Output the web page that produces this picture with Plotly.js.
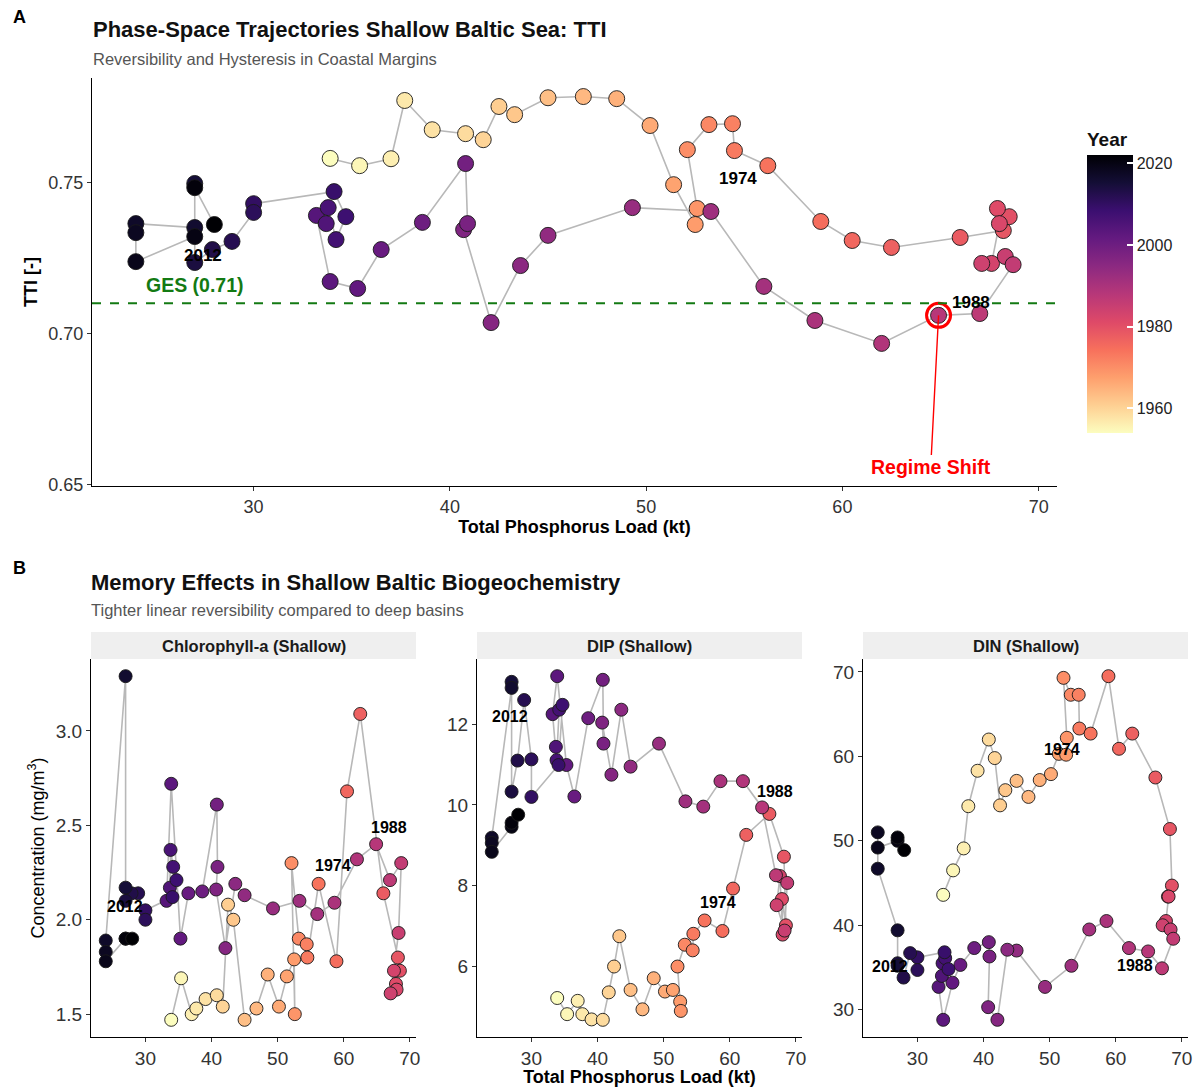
<!DOCTYPE html>
<html><head><meta charset="utf-8">
<script src="https://cdn.plot.ly/plotly-3.0.1.min.js"></script>
<style>html,body{margin:0;padding:0;background:#fff}#chart{width:1194px;height:1087px}</style>
</head><body><div id="chart"></div>
<script>
// ---------------- data ----------------
const years = [1954,1955,1956,1957,1958,1959,1960,1961,1962,1963,
  1964,1965,1966,1967,1968,1969,1970,1971,1972,1973,
  1974,1975,1976,1977,1978,1979,1980,1981,1982,1983,
  1984,1985,1986,1987,1988,1989,1990,1991,1992,1993,
  1994,1995,1996,1997,1998,1999,2000,2001,2002,2003,
  2004,2005,2006,2007,2008,2009,2010,2011,2012,2013,
  2014,2015,2016,2017,2018,2019,2020,2021,2022];
const tpLoad = [33.9,35.4,37.0,37.7,39.1,40.8,41.7,42.5,43.3,45.0,
  46.8,48.5,50.2,51.4,52.5,52.6,52.1,53.2,54.4,54.5,
  56.2,58.9,60.5,62.5,66.0,68.2,68.5,67.9,68.0,67.6,
  67.1,68.3,68.7,67.0,64.9,62.0,58.6,56.0,53.3,49.3,
  45.0,43.6,42.1,40.7,40.9,40.8,38.6,36.5,35.3,33.9,
  33.2,33.7,33.8,34.2,34.7,34.1,30.0,30.0,28.9,27.9,
  27.0,27.0,27.0,24.0,24.0,24.0,27.0,27.0,28.0];
const tti = [0.7580,0.7556,0.7579,0.7772,0.7675,0.7662,0.7642,0.7752,0.7725,0.7781,
  0.7785,0.7778,0.7689,0.7493,0.7361,0.7414,0.7609,0.7692,0.7695,0.7606,
  0.7556,0.7371,0.7308,0.7285,0.7318,0.7341,0.7387,0.7414,0.7364,0.7232,
  0.7232,0.7255,0.7228,0.7066,0.7060,0.6967,0.7043,0.7156,0.7404,0.7417,
  0.7325,0.7225,0.7036,0.7344,0.7364,0.7563,0.7368,0.7278,0.7149,0.7172,
  0.7391,0.7364,0.7417,0.7311,0.7387,0.7470,0.7430,0.7401,0.7305,0.7278,
  0.7235,0.7497,0.7351,0.7364,0.7334,0.7238,0.7321,0.7483,0.7361];
const chlA = [1.47,1.69,1.50,1.53,1.58,1.60,1.54,2.08,2.00,1.47,
  1.53,1.71,1.54,1.70,1.79,1.50,2.30,1.90,1.87,1.80,
  2.19,1.78,2.68,3.09,2.14,1.80,1.73,1.66,1.63,1.73,
  1.61,1.93,2.30,2.21,2.40,2.32,2.09,2.03,2.10,2.06,
  2.13,2.19,1.85,2.16,2.28,2.61,2.15,2.14,1.90,2.72,
  2.10,2.17,2.37,2.28,2.21,2.12,2.05,2.00,2.14,2.14,
  2.10,2.17,3.29,1.89,1.83,1.78,1.90,1.90,1.90];
const dip = [5.22,4.82,5.15,4.82,4.69,4.68,5.36,6.00,6.75,5.42,
  4.94,5.71,5.38,5.42,5.13,4.90,6.00,6.54,6.40,6.81,
  7.14,6.88,7.93,9.26,9.78,8.72,7.02,7.67,6.79,8.24,
  7.52,6.89,8.07,8.26,9.94,10.59,10.59,9.96,10.09,11.52,
  10.95,12.36,10.75,12.04,11.52,13.10,12.15,10.21,10.99,13.19,
  12.25,11.44,11.11,12.36,12.48,10.99,10.20,11.13,12.60,11.10,
  10.33,13.05,12.90,9.19,9.06,8.84,9.46,9.56,9.76];
const din = [43.6,46.5,49.1,54.1,58.3,62.0,59.8,54.2,56.0,57.1,
  55.2,57.2,57.9,60.3,60.2,62.2,69.3,67.3,67.3,63.3,
  62.7,69.5,60.9,62.7,57.5,51.4,44.7,43.4,43.4,40.5,
  40.0,39.5,38.4,34.9,36.9,37.3,40.5,39.5,35.2,32.7,
  37.0,37.1,28.8,30.3,36.3,38.0,37.3,35.3,33.2,28.8,
  32.7,34.0,35.5,36.1,34.8,36.8,36.2,34.7,36.7,33.8,
  35.5,35.2,39.4,46.7,51.0,49.2,50.0,50.4,48.9];
const labelYears = [1974, 1988, 2012];
const regimeYear = 1988;
const regimeLabelX = 64.5;
const regimeLabelY = 0.6556;
const gesValue = 0.71;
const gesLabelX = 27.0;
const gesLabelY = 0.7159;
const xTickVals = [30, 40, 50, 60, 70];
const ttiTicks = [0.65, 0.70, 0.75];
const chlTicks = [1.5, 2.0, 2.5, 3.0];
const dipTicks = [6, 8, 10, 12];
const dinTicks = [30, 40, 50, 60, 70];
const yearTicks = [1960, 1980, 2000, 2020];
const facetTitles = ['Chlorophyll-a (Shallow)', 'DIP (Shallow)', 'DIN (Shallow)'];

// ---------------- helpers ----------------
const W = 1194, H = 1087;
const FONT = 'Liberation Sans, Arial, sans-serif';
const px = v => v / W;
const py = v => 1 - v / H;
function padRange(arr) {
  const lo = Math.min(...arr), hi = Math.max(...arr), d = hi - lo;
  return [lo - 0.05 * d, hi + 0.05 * d];
}
const magmaRev = [[0,'#fcfdbf'],[0.1,'#fecf92'],[0.2,'#fe9f6d'],[0.3,'#f7705c'],
  [0.4,'#de4968'],[0.5,'#b73779'],[0.6,'#8c2981'],[0.7,'#641a80'],
  [0.8,'#3b0f70'],[0.9,'#140e36'],[1,'#000004']];
const yMin = Math.min(...years), yMax = Math.max(...years);

const xRange = padRange(tpLoad);
const ttiRange = padRange(tti.concat([regimeLabelY]));

function axisBase(extra) {
  return Object.assign({
    showline: true, linecolor: '#000', linewidth: 1,
    ticks: 'outside', ticklen: 4, tickwidth: 1, tickcolor: '#333',
    showgrid: false, zeroline: false,
    tickfont: {family: FONT, size: 19, color: '#333'}
  }, extra);
}

const traces = [];
function addPanel(xa, ya, yvals, size, showScale) {
  traces.push({
    x: tpLoad, y: yvals, xaxis: xa, yaxis: ya, mode: 'lines', type: 'scatter',
    line: {color: '#b8b8b8', width: 1.6}, hoverinfo: 'skip', showlegend: false
  });
  const m = {
    x: tpLoad, y: yvals, xaxis: xa, yaxis: ya, mode: 'markers', type: 'scatter',
    showlegend: false, text: years,
    marker: {
      size: size, color: years, cmin: yMin, cmax: yMax, colorscale: magmaRev,
      line: {color: '#1a1a1a', width: 0.9}, showscale: showScale
    }
  };
  if (showScale) {
    m.marker.colorbar = {
      x: px(1087), xanchor: 'left', y: py(433), yanchor: 'bottom', xpad: 0, ypad: 0,
      len: 304, lenmode: 'pixels', thickness: 46, thicknessmode: 'pixels',
      outlinewidth: 0, ticks: 'inside', ticklen: 6, tickwidth: 2, tickcolor: '#fff',
      tickvals: yearTicks, tickfont: {family: FONT, size: 16, color: '#222'},
      title: {text: 'Year', side: 'top', font: {family: FONT, size: 19, weight: 'bold', color: '#111'}}
    };
  }
  traces.push(m);
}
addPanel('x', 'y', tti, 16, true);
addPanel('x2', 'y2', chlA, 13, false);
addPanel('x3', 'y3', dip, 13, false);
addPanel('x4', 'y4', din, 13, false);

// regime shift ring
const ri = years.indexOf(regimeYear);
traces.push({
  x: [tpLoad[ri]], y: [tti[ri]], xaxis: 'x', yaxis: 'y', mode: 'markers', type: 'scatter',
  showlegend: false, hoverinfo: 'skip',
  marker: {symbol: 'circle-open', size: 24, color: '#ff0000', line: {color: '#ff0000', width: 3}}
});

const facetL = [91, 477, 863], facetW = 325;
const layout = {
  width: W, height: H, margin: {l: 0, r: 0, t: 0, b: 0},
  paper_bgcolor: '#fff', plot_bgcolor: '#fff', showlegend: false,
  font: {family: FONT},
  xaxis: axisBase({domain: [px(92), px(1057)], anchor: 'y', range: xRange, tickvals: xTickVals,
    tickfont: {family: FONT, size: 18, color: '#333'},
    title: {text: 'Total Phosphorus Load (kt)', standoff: 1, font: {family: FONT, size: 18, weight: 'bold', color: '#000'}}}),
  yaxis: axisBase({domain: [py(486), py(78)], anchor: 'x', range: ttiRange, tickvals: ttiTicks, tickformat: '.2f',
    tickfont: {family: FONT, size: 18, color: '#333'},
    title: {text: 'TTI [-]', standoff: 6, font: {family: FONT, size: 18, weight: 'bold', color: '#000'}}}),
  shapes: [],
  annotations: []
};
const bottomY = [chlA, dip, din];
const bottomTicks = [chlTicks, dipTicks, dinTicks];
for (let k = 0; k < 3; k++) {
  const n = k + 2;
  const xd = [px(facetL[k]), px(facetL[k] + facetW)];
  const xa = axisBase({domain: xd, anchor: 'y' + n, range: xRange, tickvals: xTickVals});
  const ya = axisBase({domain: [py(1037), py(659)], anchor: 'x' + n, range: padRange(bottomY[k]), tickvals: bottomTicks[k]});
  if (k === 1) xa.title = {text: 'Total Phosphorus Load (kt)', standoff: 1, font: {family: FONT, size: 18, weight: 'bold', color: '#000'}};
  if (k === 0) { ya.title = {text: 'Concentration (mg/m<sup>3</sup>)', standoff: 6, font: {family: FONT, size: 18, color: '#000'}}; ya.tickformat = '.1f'; }
  layout['xaxis' + n] = xa;
  layout['yaxis' + n] = ya;
  layout.shapes.push({type: 'rect', xref: 'paper', yref: 'paper', x0: xd[0], x1: xd[1], y0: py(659), y1: py(632),
    fillcolor: '#efefef', line: {width: 0}, layer: 'below'});
  layout.annotations.push({xref: 'paper', yref: 'paper', x: (xd[0] + xd[1]) / 2, y: py(645.5), xanchor: 'center', yanchor: 'middle',
    text: facetTitles[k], showarrow: false, font: {family: FONT, size: 16.5, weight: 'bold', color: '#1a1a1a'}});
}

// GES line + label
layout.shapes.push({type: 'line', xref: 'x domain', yref: 'y', x0: 0, x1: 1, y0: gesValue, y1: gesValue,
  line: {color: '#137a13', width: 2, dash: 'dash'}});
layout.annotations.push({xref: 'x', yref: 'y', x: gesLabelX, y: gesLabelY, xanchor: 'center', text: '<b>GES (0.71)</b>', showarrow: false,
  font: {family: FONT, size: 19.5, color: '#137a13'}});

// regime shift label
layout.annotations.push({xref: 'x', yref: 'y', x: tpLoad[ri], y: tti[ri], axref: 'x', ayref: 'y',
  ax: regimeLabelX, ay: regimeLabelY, text: '<b>Regime Shift</b>', showarrow: true, arrowhead: 0,
  arrowcolor: '#ff0000', arrowwidth: 1.4, standoff: 0,
  font: {family: FONT, size: 19.5, color: '#ff0000'}});

// year labels
const offsets = [
  {ax: 'x', ay: 'y', vals: tti, size: 17, off: {1974: [-30, -13], 1988: [32, 13], 2012: [-29, -14]}},
  {ax: 'x2', ay: 'y2', vals: chlA, size: 16, off: {1974: [14, 18], 1988: [13, 17], 2012: [-13, -13]}},
  {ax: 'x3', ay: 'y3', vals: dip, size: 16, off: {1974: [13, 18], 1988: [13, 16], 2012: [-14, -16]}},
  {ax: 'x4', ay: 'y4', vals: din, size: 16, off: {1974: [-29, -16], 1988: [-13, -14], 2012: [-20, -13]}}
];
offsets.forEach(p => {
  labelYears.forEach(yr => {
    const i = years.indexOf(yr);
    layout.annotations.push({xref: p.ax, yref: p.ay, x: tpLoad[i], y: p.vals[i], xanchor: 'center', yanchor: 'middle',
      text: '<b>' + yr + '</b>', showarrow: false, xshift: p.off[yr][0], yshift: p.off[yr][1],
      font: {family: FONT, size: p.size, color: '#000'}});
  });
});

// titles
const titleAnn = (t, x, y, size, color, bold) => ({xref: 'paper', yref: 'paper', x: px(x), y: py(y),
  xanchor: 'left', yanchor: 'middle', text: t, showarrow: false,
  font: {family: FONT, size: size, color: color, weight: bold ? 'bold' : 'normal'}});
layout.annotations.push(titleAnn('A', 11, 17, 18, '#000', true));
layout.annotations.push(titleAnn('Phase-Space Trajectories Shallow Baltic Sea: TTI', 91, 30, 22, '#111', true));
layout.annotations.push(titleAnn('Reversibility and Hysteresis in Coastal Margins', 91, 59, 16.5, '#555', false));
layout.annotations.push(titleAnn('B', 11, 568, 18, '#000', true));
layout.annotations.push(titleAnn('Memory Effects in Shallow Baltic Biogeochemistry', 89, 582, 22, '#111', true));
layout.annotations.push(titleAnn('Tighter linear reversibility compared to deep basins', 89, 610, 16.5, '#555', false));

Plotly.newPlot('chart', traces, layout, {displayModeBar: false, staticPlot: true});
</script>
</body></html>
